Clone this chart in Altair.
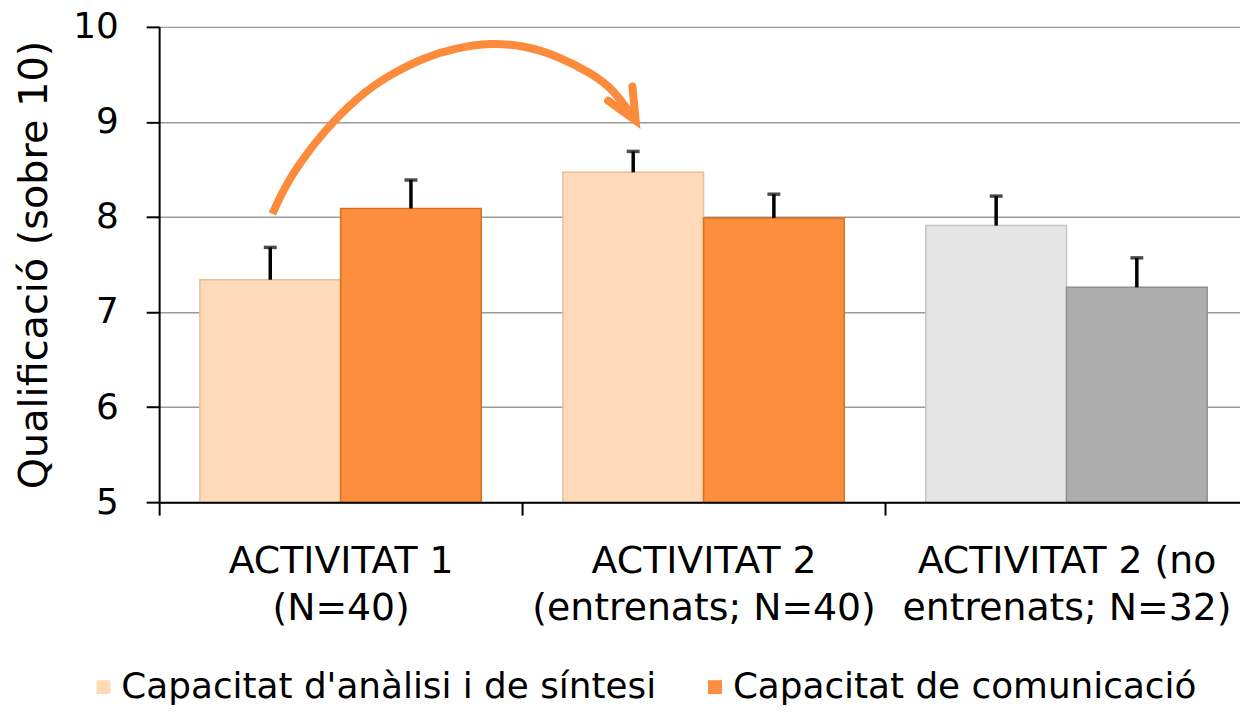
import altair as alt
import pandas as pd

FONT = "DejaVu Sans"

categories = ["ACTIVITAT 1|(N=40)", "ACTIVITAT 2|(entrenats; N=40)", "ACTIVITAT 2 (no|entrenats; N=32)"]
series = ["Capacitat d'anàlisi i de síntesi", "Capacitat de comunicació"]
means_analysis = [7.34, 8.47, 7.91]
means_comm = [8.09, 7.99, 7.26]
upper_analysis = [7.68, 8.69, 8.22]
upper_comm = [8.39, 8.24, 7.57]
keys_analysis = [series[0], series[0], "grey_light"]
keys_comm = [series[1], series[1], "grey_dark"]

color_domain = [series[0], series[1], "grey_light", "grey_dark"]
fill_colors = ["#FFDAB8", "#FD8E3E", "#E6E6E6", "#ADADAD"]
edge_colors = ["#E9BE98", "#D8701F", "#C4C4C4", "#8E8E8E"]

# arrow annotation path, in (category-band units, score) coordinates
arrow_u = [0.312, 0.347, 0.393, 0.457, 0.548, 0.639, 0.731, 0.822, 0.913, 1.005, 1.096, 1.187, 1.251, 1.301, 1.311]
arrow_v = [8.033, 8.309, 8.588, 8.902, 9.250, 9.495, 9.668, 9.773, 9.819, 9.791, 9.686, 9.512, 9.320, 9.076, 9.02]
head_u = [1.237, 1.313, 1.304]
head_v = [9.223, 9.014, 9.372]

rows = []
for i, c in enumerate(categories):
    rows.append(dict(cat=c, ser=series[0], key=keys_analysis[i], val=means_analysis[i], up=upper_analysis[i]))
    rows.append(dict(cat=c, ser=series[1], key=keys_comm[i], val=means_comm[i], up=upper_comm[i]))
df = pd.DataFrame(rows)

arc_df = pd.DataFrame({"u": arrow_u, "v": arrow_v, "o": list(range(len(arrow_u)))})
head_df = pd.DataFrame({"u": head_u, "v": head_v, "o": list(range(len(head_u)))})

W, H = 1095, 478
TITLE = "Qualificació (sobre 10)"

xscale = alt.Scale(domain=categories, paddingInner=0, paddingOuter=0)
yscale = alt.Scale(domain=[5, 10], zero=False, nice=False)

x_enc = alt.X("cat:N", sort=categories, scale=xscale, title=None,
              axis=alt.Axis(labelExpr="split(datum.label, '|')", labelAngle=0,
                            tickBand="extent", tickSize=13, tickWidth=2, tickColor="black",
                            domainColor="black", domainWidth=2, labelFont=FONT,
                            labelFontSize=38, labelColor="black", labelPadding=28,
                            labelLineHeight=47, labelBaseline="top", labelLimit=600,
                            grid=False, zindex=1))
xo_enc = alt.XOffset("ser:N", sort=series, scale=alt.Scale(paddingInner=0, paddingOuter=0.29))

y_axis = alt.Axis(values=[5, 6, 7, 8, 9, 10], format="d", tickSize=13, tickWidth=2, tickColor="black",
                  domainColor="black", domainWidth=2, labelFont=FONT, labelFontSize=36,
                  labelColor="black", labelPadding=28, titleFont=FONT, titleFontSize=40,
                  titleFontWeight="normal", titleColor="black", titlePadding=18,
                  grid=True, gridColor="#9A9A9A", gridWidth=1.5)

bars = alt.Chart(df).mark_bar(strokeWidth=1.5, clip=True).encode(
    x=x_enc,
    xOffset=xo_enc,
    y=alt.Y("val:Q", scale=yscale, title=TITLE, axis=y_axis),
    color=alt.Color("key:N", scale=alt.Scale(domain=color_domain, range=fill_colors),
                    legend=alt.Legend(values=series, title=None, orient="none",
                                      direction="horizontal", legendX=-74, legendY=646,
                                      symbolType="square", symbolSize=196, symbolStrokeWidth=0,
                                      labelFont=FONT, labelFontSize=36, labelColor="black",
                                      labelOffset=0, columnPadding=40, labelLimit=0)),
    stroke=alt.Stroke("key:N", scale=alt.Scale(domain=color_domain, range=edge_colors), legend=None),
)

err = alt.Chart(df).mark_rule(color="black", strokeWidth=3.5).encode(
    x=x_enc,
    xOffset=xo_enc,
    y=alt.Y("val:Q", scale=yscale, title=TITLE, axis=y_axis),
    y2="up:Q",
)
caps = alt.Chart(df).mark_tick(color="black", size=13, thickness=3.5).encode(
    x=x_enc,
    xOffset=xo_enc,
    y=alt.Y("up:Q", scale=yscale, title=TITLE, axis=y_axis),
)

base = alt.layer(bars, err, caps)

uscale = alt.Scale(domain=[0, 3], nice=False, zero=False)
arc = alt.Chart(arc_df).mark_line(color="#FD8B3C", strokeWidth=8, interpolate="natural", strokeCap="butt").encode(
    x=alt.X("u:Q", scale=uscale, axis=None),
    y=alt.Y("v:Q", scale=yscale, title=TITLE, axis=y_axis),
    order="o:Q",
)
head = alt.Chart(head_df).mark_line(color="#FD8B3C", strokeWidth=8, strokeCap="round", strokeJoin="miter").encode(
    x=alt.X("u:Q", scale=uscale, axis=None),
    y=alt.Y("v:Q", scale=yscale, title=TITLE, axis=y_axis),
    order="o:Q",
)

chart = alt.layer(base, arc, head).resolve_scale(x="independent").properties(
    width=W, height=H,
    autosize=alt.AutoSizeParams(type="none"),
    padding={"left": 152, "top": 17, "right": -8, "bottom": 203},
).configure_view(stroke=None).configure(background="white")

chart.save("out.html", embed_options={"renderer": "svg", "actions": False})
